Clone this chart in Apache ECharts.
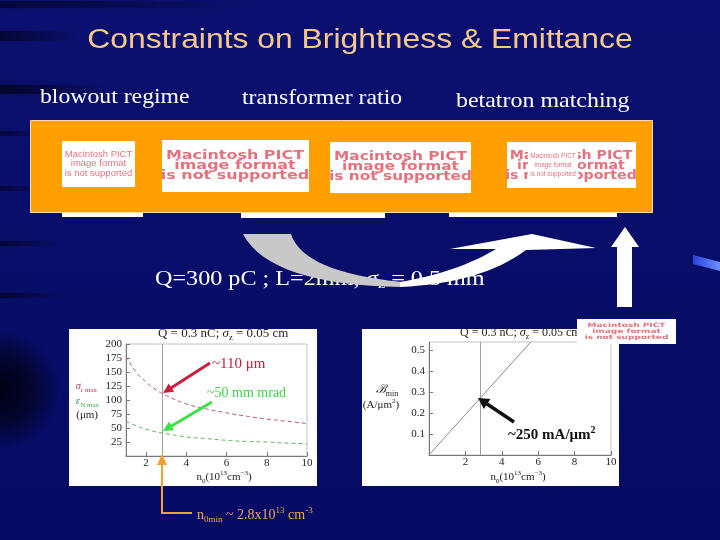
<!DOCTYPE html>
<html><head><meta charset="utf-8">
<script src="https://cdn.jsdelivr.net/npm/echarts@6/dist/echarts.min.js"></script>
<style>html,body{margin:0;padding:0;background:#0a0e6c}#c{width:720px;height:540px}</style>
</head><body><div id="c"></div>
<script>
// ---- data ----
const nLeft = [1, 1.5, 2, 2.5, 3, 4, 5, 6, 7, 8, 9, 10];
const sigmaRMax = [178, 150, 132, 118, 108, 93, 84, 77, 71, 66, 62, 58];
const epsNMax = [62, 54, 48, 43, 40, 34, 31, 28, 26, 25, 23, 22];
const nRight = [0, 1, 2, 3, 4, 5, 6];
const brightMin = [0, 0.097, 0.193, 0.29, 0.386, 0.483, 0.58];
const n0min = 2.8;
const xTickLabels = [2, 4, 6, 8, 10];
const rightYTickLabels = [0.1, 0.2, 0.3, 0.4, 0.5];
const leftYInterval = 25;

const SERIF = 'Liberation Serif';
const SANS = 'Liberation Sans';
const PINK = '#e4727e';

const chart = echarts.init(document.getElementById('c'), null, {renderer: 'canvas'});

function streak(x, y, w, h, a) {
  return {type: 'rect', z: 1, shape: {x: x, y: y, width: w, height: h},
    style: {fill: new echarts.graphic.LinearGradient(0, 0, 1, 0, [
      {offset: 0, color: 'rgba(0,0,12,' + a + ')'}, {offset: 1, color: 'rgba(0,0,12,0)'}]),
      shadowBlur: 8, shadowColor: 'rgba(0,0,12,' + (a * 0.5) + ')'}};
}
function arrow(x1, y1, x2, y2, color, w, hl, hw) {
  const dx = x2 - x1, dy = y2 - y1, L = Math.sqrt(dx * dx + dy * dy);
  const ux = dx / L, uy = dy / L, px = -uy, py = ux;
  const bx = x2 - ux * hl, by = y2 - uy * hl;
  return [
    {type: 'line', z: 30, shape: {x1: x1, y1: y1, x2: bx + ux, y2: by + uy}, style: {stroke: color, lineWidth: w}},
    {type: 'polygon', z: 30, shape: {points: [[x2, y2], [bx + px * hw, by + py * hw], [bx - px * hw, by - py * hw]]}, style: {fill: color}}
  ];
}
// quadratic bezier sampled into points (decoration geometry only)
function quad(p0, c, p1) {
  const pts = [];
  for (let k = 0; k <= 16; k++) {
    const t = k / 16, a = (1 - t) * (1 - t), b = 2 * t * (1 - t), d = t * t;
    pts.push([a * p0[0] + b * c[0] + d * p1[0], a * p0[1] + b * c[1] + d * p1[1]]);
  }
  return pts;
}
function txt(x, y, text, o) {
  o = o || {};
  return {type: 'text', z: o.z || 20, x: x, y: y, scaleX: o.scaleX || 1,
    style: {text: text, fill: o.fill || '#fff', fontFamily: o.family || SERIF, fontSize: o.size || 12,
      fontWeight: o.weight || 'normal', fontStyle: o.style || 'normal',
      align: o.align || 'left', verticalAlign: o.va || 'middle', rich: o.rich}};
}
function pict3(cx, ys, size, o) {
  o = o || {};
  const lines = ['Macintosh PICT', 'image format', 'is not supported'];
  return lines.map((t, i) => txt(cx, ys[i], t, {fill: PINK, family: o.family || SANS, size: size,
    weight: o.weight || 'normal', align: 'center', scaleX: o.scaleX || 1, z: o.z || 12}));
}
function whiteRect(x, y, w, h, z) {
  return {type: 'rect', z: z || 10, shape: {x: x, y: y, width: w, height: h}, style: {fill: '#fff'}};
}

const subRich = (col, size) => ({
  m: {fill: col, color: col, fontSize: size, fontFamily: SERIF, lineHeight: size + 4},
  i: {fill: col, color: col, fontSize: size, fontFamily: SERIF, fontStyle: 'italic', lineHeight: size + 4},
  s: {fill: col, color: col, fontSize: Math.round(size * 0.65), fontFamily: SERIF, verticalAlign: 'bottom', lineHeight: Math.round(size * 0.65) + 1},
  u: {fill: col, color: col, fontSize: Math.round(size * 0.65), fontFamily: SERIF, verticalAlign: 'top', lineHeight: Math.round(size * 0.65) + 1}
});

const graphics = [];
// background
graphics.push({type: 'rect', z: 0, shape: {x: 0, y: 0, width: 720, height: 540},
  style: {fill: new echarts.graphic.LinearGradient(0, 0, 0, 1, [
    {offset: 0, color: '#0b1070'}, {offset: 0.6, color: '#080d68'}, {offset: 1, color: '#060b66'}])}});
graphics.push(streak(0, 1, 260, 7, 0.5), streak(0, 31, 80, 10, 0.55), streak(0, 85, 110, 9, 0.65),
  streak(0, 131, 45, 5, 0.5), streak(0, 186, 45, 5, 0.5), streak(0, 241, 60, 5, 0.5),
  streak(0, 293, 65, 5, 0.55));
graphics.push({type: 'rect', z: 1, shape: {x: 0, y: 315, width: 110, height: 150},
  style: {fill: new echarts.graphic.RadialGradient(0, 0.5, 0.55, [
    {offset: 0, color: 'rgba(0,0,10,0.9)'}, {offset: 0.55, color: 'rgba(0,0,10,0.6)'}, {offset: 1, color: 'rgba(0,0,10,0)'}])}});
graphics.push({type: 'polygon', z: 1, shape: {points: [[693, 255], [720, 262], [720, 271], [693, 264]]},
  style: {fill: new echarts.graphic.LinearGradient(0, 0, 1, 0, [{offset: 0, color: '#2a44d8'}, {offset: 1, color: '#6a90ff'}])}});

// titles
graphics.push(txt(360, 41, 'Constraints on Brightness & Emittance', {fill: '#f6c88c', family: SANS, size: 27, align: 'center', scaleX: 1.18}));
graphics.push(txt(40, 97, 'blowout regime', {size: 21, scaleX: 1.13}));
graphics.push(txt(242, 98, 'transformer ratio', {size: 21, scaleX: 1.13}));
graphics.push(txt(456, 101, 'betatron matching', {size: 21, scaleX: 1.14}));

// orange box + white strips
graphics.push({type: 'rect', z: 5, shape: {x: 62, y: 212, width: 81, height: 5}, style: {fill: '#fff'}});
graphics.push({type: 'rect', z: 5, shape: {x: 241, y: 212, width: 144, height: 6}, style: {fill: '#fff'}});
graphics.push({type: 'rect', z: 5, shape: {x: 449, y: 212, width: 168, height: 5}, style: {fill: '#fff'}});
graphics.push({type: 'rect', z: 6, shape: {x: 30.5, y: 120.5, width: 622, height: 92}, style: {fill: '#ff9f00', stroke: '#ffe2a8', lineWidth: 1}});
graphics.push(whiteRect(62, 141, 73, 46));
graphics.push(...pict3(98.5, [154, 163.5, 173], 9.5));
graphics.push(whiteRect(162, 140, 147, 52));
graphics.push(...pict3(235, [156, 166, 176], 12, {family: 'DejaVu Sans', weight: 'bold', scaleX: 1.33}));
graphics.push(whiteRect(330, 142, 141, 51));
graphics.push(...pict3(400.5, [157, 167, 177], 12, {family: 'DejaVu Sans', weight: 'bold', scaleX: 1.28}));
graphics.push(whiteRect(507, 142, 129, 46));
graphics.push(...pict3(571, [156, 166, 176], 12, {family: 'DejaVu Sans', weight: 'bold', scaleX: 1.18}));
graphics.push(whiteRect(528, 148, 50, 34, 13));
graphics.push(...pict3(553, [156, 165, 174], 7.5, {z: 14, scaleX: 0.85}));

// Q line text
graphics.push(txt(155, 279, '{m|Q=300 pC ; L=2mm; }{i|σ}{s|z}{m| = 0.5 mm}', {rich: subRich('#fff', 21), scaleX: 1.15}));

// curved arrow (grey + white)
graphics.push({type: 'polygon', z: 22, shape: {points:
  [[243, 234]].concat(quad([291, 234], [303, 272], [402, 282]), quad([402, 287], [270, 285], [243, 234]))},
  style: {fill: '#c8c8c8'}});
graphics.push({type: 'polygon', z: 22, shape: {points:
  quad([400, 282], [458, 272], [496, 249]).concat([[450, 249], [532, 234], [596, 248]], quad([526, 250], [482, 283], [400, 287]))},
  style: {fill: '#ffffff'}});
// vertical white arrow
graphics.push({type: 'polygon', z: 22, shape: {points: [[617, 307], [617, 247], [611, 247], [625, 227], [639, 247], [632, 247], [632, 307]]}, style: {fill: '#fff'}});

// chart panels
graphics.push({type: 'rect', z: 2, shape: {x: 69, y: 329, width: 248, height: 157}, style: {fill: '#fff'}});
graphics.push({type: 'rect', z: 2, shape: {x: 362, y: 329, width: 257, height: 157}, style: {fill: '#fff'}});
// small pict box
graphics.push(whiteRect(577, 319, 99, 25, 25));
graphics.push(...pict3(626.5, [325, 331, 337], 6, {family: 'DejaVu Sans', weight: 'bold', scaleX: 1.5, z: 26}));

// chart texts
graphics.push(txt(158, 334, '{m|Q = 0.3 nC; }{i|σ}{s|z}{m| = 0.05 cm}', {rich: subRich('#222', 12), scaleX: 1.08}));
graphics.push(txt(460, 333, '{m|Q = 0.3 nC; }{i|σ}{s|z}{m| = 0.05 cm}', {rich: subRich('#222', 12)}));
graphics.push(txt(97, 386, '{i|σ}{s|r max}', {rich: subRich('#c0405a', 11), align: 'right'}));
graphics.push(txt(99, 401, '{i|ε}{s|N max}', {rich: subRich('#3aa84a', 11), align: 'right'}));
graphics.push(txt(98, 415, '(μm)', {fill: '#222', size: 11, align: 'right'}));
graphics.push(txt(387, 390, '{i|ℬ}{s|min}', {rich: subRich('#222', 12), align: 'center'}));
graphics.push(txt(381, 405, '{m|(A/μm}{u|2}{m|)}', {rich: subRich('#222', 11), align: 'center'}));
graphics.push(txt(224, 477, '{m|n}{s|0}{m|(10}{u|13}{m|cm}{u|−3}{m|)}', {rich: subRich('#222', 11), align: 'center'}));
graphics.push(txt(518, 477, '{m|n}{s|0}{m|(10}{u|13}{m|cm}{u|−3}{m|)}', {rich: subRich('#222', 11), align: 'center'}));

// annotations inside charts
graphics.push(txt(212, 364, '~110 μm', {fill: '#c01f3c', size: 15}));
graphics.push(txt(207, 393, '~50 mm mrad', {fill: '#3ed24a', size: 14}));
graphics.push(...arrow(210, 363, 163, 393, '#c8203e', 3, 10, 5));
graphics.push(...arrow(212, 402, 163, 431, '#3ee04a', 3, 10, 5));
graphics.push(txt(508, 435, '{m|~250 mA/μm}{u|2}', {rich: {
  m: {fill: '#111', fontSize: 15, fontWeight: 'bold', fontFamily: SERIF, lineHeight: 19},
  u: {fill: '#111', fontSize: 10, fontWeight: 'bold', fontFamily: SERIF, verticalAlign: 'top', lineHeight: 11}}}));
graphics.push(...arrow(514, 422, 478, 398, '#111', 3.5, 11, 6));

// orange n0min annotation
graphics.push({type: 'polyline', z: 30, shape: {points: [[162, 463], [162, 513], [192, 513]]}, style: {stroke: '#f2a030', lineWidth: 2}});
graphics.push({type: 'polygon', z: 30, shape: {points: [[162, 454], [157, 465], [167, 465]]}, style: {fill: '#f2a030'}});
graphics.push(txt(197, 515, '{m|n}{s|0min}{m| ~ 2.8x10}{u|13}{m| cm}{u|-3}', {rich: subRich('#f0a850', 14)}));

const axisCommon = {
  axisLine: {show: true, lineStyle: {color: '#777', width: 1}},
  axisTick: {show: true, inside: true, length: 4, lineStyle: {color: '#777'}},
  splitLine: {show: false},
  z: 4
};
const lbl = {color: '#222', fontFamily: SERIF, fontSize: 11};

const option = {
  animation: false,
  backgroundColor: 'transparent',
  graphic: graphics,
  grid: [
    {left: 126, top: 344, width: 181, height: 112, show: true, borderColor: '#c4c4c4', borderWidth: 1, z: 3},
    {left: 429, top: 342, width: 182, height: 113, show: true, borderColor: '#c4c4c4', borderWidth: 1, z: 3}
  ],
  xAxis: [
    Object.assign({}, axisCommon, {gridIndex: 0, type: 'value', min: 1, max: 10,
      axisTick: Object.assign({}, axisCommon.axisTick, {customValues: xTickLabels}),
      axisLabel: Object.assign({}, lbl, {customValues: xTickLabels, margin: 2})}),
    Object.assign({}, axisCommon, {gridIndex: 1, type: 'value', min: 0, max: 10,
      axisTick: Object.assign({}, axisCommon.axisTick, {customValues: xTickLabels}),
      axisLabel: Object.assign({}, lbl, {customValues: xTickLabels, margin: 2})})
  ],
  yAxis: [
    Object.assign({}, axisCommon, {gridIndex: 0, type: 'value', min: 0, max: 200, interval: leftYInterval,
      axisLabel: Object.assign({}, lbl, {showMinLabel: false, margin: 4})}),
    Object.assign({}, axisCommon, {gridIndex: 1, type: 'value', min: 0, max: 0.54,
      axisTick: Object.assign({}, axisCommon.axisTick, {customValues: rightYTickLabels}),
      axisLabel: Object.assign({}, lbl, {customValues: rightYTickLabels, margin: 4})})
  ],
  series: [
    {type: 'line', xAxisIndex: 0, yAxisIndex: 0, z: 5, smooth: true, symbol: 'none',
      data: nLeft.map((x, i) => [x, sigmaRMax[i]]),
      lineStyle: {color: '#b65876', width: 1, type: [4, 3]},
      markLine: {silent: true, symbol: 'none', label: {show: false},
        lineStyle: {color: '#a0a0a0', type: 'solid', width: 1}, data: [{xAxis: n0min}]}},
    {type: 'line', xAxisIndex: 0, yAxisIndex: 0, z: 5, smooth: true, symbol: 'none',
      data: nLeft.map((x, i) => [x, epsNMax[i]]),
      lineStyle: {color: '#5cb464', width: 1, type: [4, 3]}},
    {type: 'line', xAxisIndex: 1, yAxisIndex: 1, z: 5, symbol: 'none', clip: true,
      data: nRight.map((x, i) => [x, brightMin[i]]),
      lineStyle: {color: '#888', width: 1},
      markLine: {silent: true, symbol: 'none', label: {show: false},
        lineStyle: {color: '#a0a0a0', type: 'solid', width: 1}, data: [{xAxis: n0min}]}}
  ]
};
chart.setOption(option);
</script>
</body></html>
